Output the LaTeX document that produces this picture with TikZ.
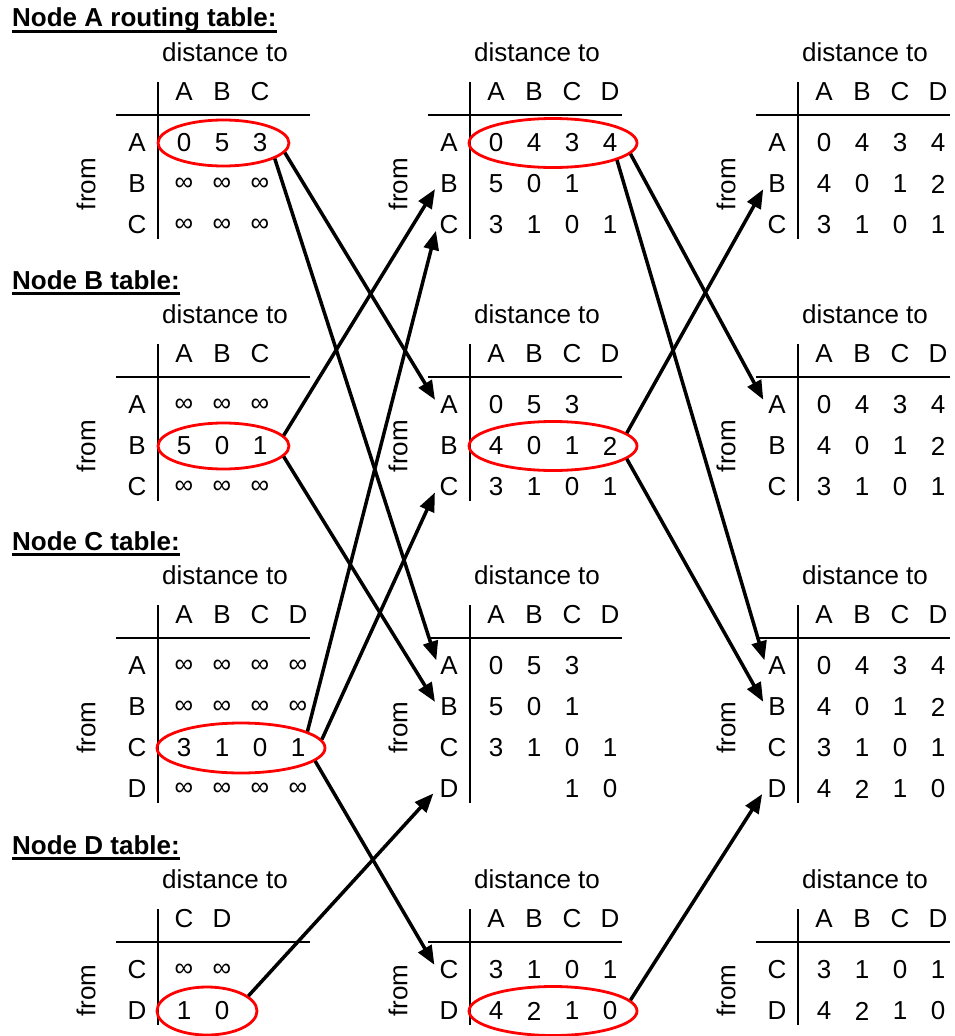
\documentclass[tikz,border=0pt]{standalone}
\usepackage{fontspec}
\setmainfont{Liberation Sans}
\usetikzlibrary{arrows.meta, shapes.geometric}
\tikzset{
  distlbl/.style={inner sep=1pt},
  ent/.style={inner sep=1pt},
  rowlbl/.style={inner sep=2pt},
  fromlbl/.style={rotate=90, inner sep=1pt},
  tabrule/.style={line width=2.5pt},
  redring/.style={ellipse, draw=red, line width=2.8pt, inner sep=0pt},
  arr/.style={-{Triangle[length=19pt,width=15pt]}, line width=3.5pt, shorten >=6pt},
  ttl/.style={anchor=base west, inner sep=0pt, font=\bfseries},
  uline/.style={line width=3pt}
}
% #1 name, #2 x of the bar, #3 y of the rule, #4 heads, #5 rows, #6 number of rows
\newcommand{\dvtable}[6]{%
  \node[distlbl] (#1dist) at (#2+67,#3-63) {distance to};
  \foreach \h [count=\i] in {#4}
    \node[ent] (#1h\i) at (#2-12+38*\i,#3-23) {\h};
  \foreach \r/\vals [count=\j] in {#5} {
    \node[rowlbl] (#1\r) at (#2-21,#3-13+41*\j) {\r};
    \foreach \v [count=\i] in \vals
      \node[ent] (#1\r\i) at (#2-12+38*\i,#3-13+41*\j) {\v};
  }
  \node[fromlbl] (#1from) at (#2-72,{#3+28+20.5*(#6-1)}) {from};
  \draw[tabrule] (#2-42,#3) -- (#2+152,#3);
  \draw[tabrule] (#2,#3-33) -- (#2,{#3+42+41*(#6-1)});
}
\begin{document}
\begin{tikzpicture}[x=1pt, y=-1pt]
\fontsize{26pt}{31pt}\selectfont
\useasboundingbox (0,0) rectangle (955,1036);
% titles
\node[ttl] (ttlA) at (12,27) {Node A routing table:};
\node[ttl] (ttlB) at (12,289) {Node B table:};
\node[ttl] (ttlC) at (12,550) {Node C table:};
\node[ttl] (ttlD) at (12,854) {Node D table:};
\foreach \t in {ttlA,ttlB,ttlC,ttlD}
  \draw[uline] ([yshift=-4.5pt]\t.base west) -- ([yshift=-4.5pt]\t.base east);
% left column
\dvtable{L1}{158}{115}{A,B,C}{A/{0,5,3},B/{∞,∞,∞},C/{∞,∞,∞}}{3}
\dvtable{L2}{158}{377}{A,B,C}{A/{∞,∞,∞},B/{5,0,1},C/{∞,∞,∞}}{3}
\dvtable{L3}{158}{638}{A,B,C,D}{A/{∞,∞,∞,∞},B/{∞,∞,∞,∞},C/{3,1,0,1},D/{∞,∞,∞,∞}}{4}
\dvtable{L4}{158}{942}{C,D}{C/{∞,∞},D/{1,0}}{2}
% middle column
\dvtable{M1}{470}{115}{A,B,C,D}{A/{0,4,3,4},B/{5,0,1},C/{3,1,0,1}}{3}
\dvtable{M2}{470}{377}{A,B,C,D}{A/{0,5,3},B/{4,0,1,2},C/{3,1,0,1}}{3}
\dvtable{M3}{470}{638}{A,B,C,D}{A/{0,5,3},B/{5,0,1},C/{3,1,0,1},D/{{},{},1,0}}{4}
\dvtable{M4}{470}{942}{A,B,C,D}{C/{3,1,0,1},D/{4,2,1,0}}{2}
% right column
\dvtable{R1}{798}{115}{A,B,C,D}{A/{0,4,3,4},B/{4,0,1,2},C/{3,1,0,1}}{3}
\dvtable{R2}{798}{377}{A,B,C,D}{A/{0,4,3,4},B/{4,0,1,2},C/{3,1,0,1}}{3}
\dvtable{R3}{798}{638}{A,B,C,D}{A/{0,4,3,4},B/{4,0,1,2},C/{3,1,0,1},D/{4,2,1,0}}{4}
\dvtable{R4}{798}{942}{A,B,C,D}{C/{3,1,0,1},D/{4,2,1,0}}{2}
% red rings round the rows that are sent
\node[redring, minimum width=131pt, minimum height=46pt] (ringL1) at (223.5,143) {};
\node[redring, minimum width=131pt, minimum height=46pt] (ringL2) at (223.5,446) {};
\node[redring, minimum width=168pt, minimum height=50pt] (ringL3) at (241,748) {};
\node[redring, minimum width=100pt, minimum height=48pt] (ringL4) at (207,1011) {};
\node[redring, minimum width=168pt, minimum height=49pt] (ringM1) at (553,143) {};
\node[redring, minimum width=168pt, minimum height=49pt] (ringM2) at (553,446) {};
\node[redring, minimum width=168pt, minimum height=49pt] (ringM4) at (553,1011) {};
% first exchange
\draw[arr] (ringL1.-9) -- (M2A.west);
\draw[arr] (ringL1.-17) -- (M3A.west);
\draw[arr] (ringL2.10) -- (M1B.west);
\draw[arr] (ringL2.-10) -- (M3B.west);
\draw[arr] (ringL3.14) -- (M1C.west);
\draw[arr] (ringL3.6) -- (M2C.west);
\draw[arr] (ringL3.-10) -- (M4C.west);
\draw[arr] (ringL4.20) -- (M3D.west);
% second exchange
\draw[arr] (ringM1.-8) -- (R2A.west);
\draw[arr] (ringM1.-15) -- (R3A.west);
\draw[arr] (ringM2.10) -- (R1B.west);
\draw[arr] (ringM2.-10) -- (R3B.west);
\draw[arr] (ringM4.8) -- (R3D.west);
\end{tikzpicture}
\end{document}
